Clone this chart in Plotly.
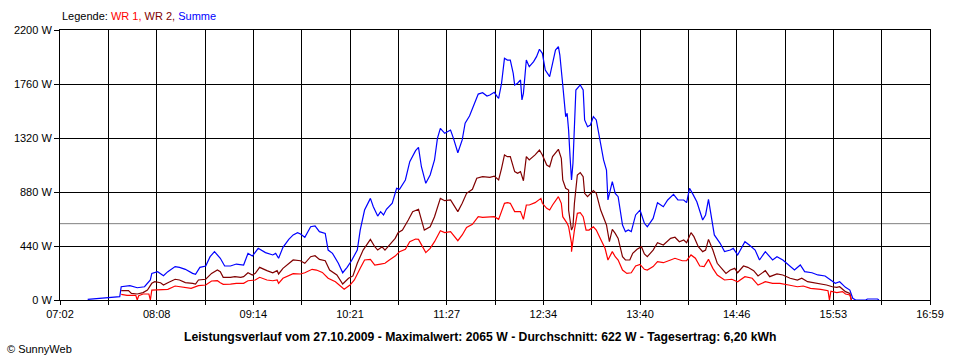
import plotly.graph_objects as go
from datetime import datetime

DATE = "2009-10-27"
X_START = "07:02"
X_END = "16:59"
X_TICK_LABELS = ["07:02", "08:08", "09:14", "10:21", "11:27", "12:34", "13:40", "14:46", "15:53", "16:59"]
Y_TICKS = [0, 440, 880, 1320, 1760, 2200]
AVERAGE_W = 622

SUM_TIMES = ["07:21", "07:29", "07:40", "07:43", "07:44", "07:50", "07:55", "08:00", "08:04", "08:05",
             "08:09", "08:13", "08:16", "08:21", "08:24", "08:28", "08:33", "08:35", "08:38", "08:42",
             "08:45", "08:48", "08:52", "08:55", "08:59", "09:03", "09:08", "09:11", "09:14", "09:18",
             "09:23", "09:28", "09:30", "09:32", "09:35", "09:39", "09:42", "09:45", "09:47", "09:50",
             "09:54", "09:57", "10:00", "10:04", "10:06", "10:09", "10:13", "10:16", "10:19", "10:22",
             "10:26", "10:28", "10:31", "10:35", "10:37", "10:40", "10:42", "10:44", "10:46", "10:50",
             "10:53", "10:55", "10:59", "11:02", "11:06", "11:08", "11:10", "11:13", "11:16", "11:19",
             "11:21", "11:23", "11:26", "11:30", "11:32", "11:35", "11:38", "11:40", "11:43", "11:45",
             "11:49", "11:52", "11:55", "11:57", "12:00", "12:02", "12:03", "12:05", "12:07", "12:09",
             "12:11", "12:13", "12:14", "12:16", "12:18", "12:19", "12:20", "12:22", "12:24", "12:27",
             "12:29", "12:31", "12:33", "12:35", "12:38", "12:40", "12:42", "12:44", "12:45", "12:47",
             "12:49", "12:50", "12:51", "12:52", "12:53", "12:54", "12:55", "12:56", "12:59", "13:01",
             "13:02", "13:04", "13:06", "13:08", "13:10", "13:13", "13:15", "13:17", "13:18", "13:21",
             "13:23", "13:25", "13:28", "13:30", "13:32", "13:34", "13:37", "13:40", "13:43", "13:45",
             "13:49", "13:52", "13:56", "13:59", "14:03", "14:06", "14:10", "14:12", "14:14", "14:16",
             "14:19", "14:23", "14:25", "14:27", "14:29", "14:31", "14:35", "14:38", "14:42", "14:44",
             "14:47", "14:52", "14:55", "14:59", "15:02", "15:06", "15:11", "15:14", "15:18", "15:23",
             "15:26", "15:30", "15:33", "15:38", "15:42", "15:47", "15:50", "15:54", "15:57", "16:01",
             "16:04", "16:06", "16:08", "16:15", "16:16", "16:23", "16:24"]
SUM_W = [5, 11, 19, 27, 108, 117, 100, 108, 163, 217,
         231, 198, 231, 272, 266, 250, 217, 209, 266, 277,
         353, 394, 340, 277, 277, 293, 285, 380, 358, 421,
         386, 367, 380, 340, 429, 494, 530, 549, 538, 511,
         597, 603, 557, 543, 407, 380, 299, 222, 266, 320,
         407, 570, 733, 828, 760, 684, 720, 693, 739, 788,
         910, 902, 978, 1127, 1217, 1244, 1086, 951, 1019, 1141,
         1317, 1399, 1358, 1385, 1317, 1200, 1304, 1440, 1499, 1562,
         1678, 1689, 1662, 1670, 1692, 1657, 1643, 1766, 1969, 1955,
         1955, 1847, 1752, 1766, 1793, 1630, 1684, 1955, 1901, 1942,
         1983, 2043, 2010, 1874, 1820, 1929, 2037, 2065, 1996, 1752,
         1494, 1521, 1385, 1168, 978, 1114, 1412, 1711, 1752, 1711,
         1467, 1412, 1426, 1494, 1467, 1249, 1141, 1059, 815, 964,
         869, 842, 611, 557, 570, 557, 693, 733, 625, 597,
         665, 793, 760, 815, 861, 815, 815, 793, 910, 869,
         801, 652, 693, 820, 679, 530, 462, 394, 407, 421,
         367, 475, 448, 407, 326, 394, 326, 353, 326, 272,
         244, 285, 231, 222, 204, 196, 169, 136, 149, 103,
         81, 14, 0, 0, 8, 8, 0]

WR2_TIMES = ["07:44", "07:49", "07:51", "07:55", "07:59", "08:02", "08:05", "08:07", "08:11", "08:13",
             "08:16", "08:21", "08:24", "08:28", "08:33", "08:35", "08:37", "08:42", "08:46", "08:50",
             "08:52", "08:54", "08:59", "09:02", "09:06", "09:08", "09:11", "09:14", "09:16", "09:19",
             "09:24", "09:28", "09:31", "09:32", "09:35", "09:39", "09:42", "09:47", "09:50", "09:54",
             "09:57", "10:00", "10:04", "10:07", "10:12", "10:16", "10:20", "10:23", "10:26", "10:30",
             "10:35", "10:38", "10:40", "10:43", "10:45", "10:48", "10:52", "10:54", "10:57", "11:01",
             "11:04", "11:08", "11:10", "11:12", "11:16", "11:19", "11:23", "11:26", "11:30", "11:32",
             "11:35", "11:38", "11:41", "11:45", "11:48", "11:52", "11:57", "12:00", "12:03", "12:05",
             "12:07", "12:09", "12:11", "12:14", "12:16", "12:18", "12:20", "12:22", "12:24", "12:28",
             "12:31", "12:33", "12:36", "12:38", "12:40", "12:44", "12:46", "12:47", "12:49", "12:51",
             "12:51", "12:53", "12:54", "12:55", "12:57", "12:59", "13:01", "13:02", "13:04", "13:08",
             "13:10", "13:13", "13:15", "13:17", "13:19", "13:21", "13:23", "13:25", "13:28", "13:30",
             "13:33", "13:35", "13:38", "13:41", "13:43", "13:45", "13:49", "13:52", "13:56", "14:01",
             "14:04", "14:07", "14:10", "14:12", "14:15", "14:17", "14:20", "14:23", "14:25", "14:27",
             "14:30", "14:33", "14:36", "14:39", "14:42", "14:45", "14:47", "14:51", "14:54", "14:58",
             "15:01", "15:06", "15:09", "15:14", "15:18", "15:23", "15:28", "15:31", "15:35", "15:39",
             "15:44", "15:48", "15:52", "15:55", "15:57", "16:01", "16:04", "16:05"]
WR2_W = [76, 76, 54, 49, 60, 81, 136, 149, 141, 122,
         141, 169, 163, 142, 136, 130, 163, 169, 217, 244,
         231, 185, 185, 190, 185, 190, 222, 204, 217, 266,
         239, 222, 239, 212, 258, 293, 326, 320, 299, 353,
         361, 331, 320, 244, 204, 130, 177, 196, 299, 407,
         494, 434, 407, 434, 407, 448, 502, 549, 570, 652,
         720, 739, 652, 570, 597, 679, 828, 809, 815, 774,
         720, 788, 869, 902, 992, 1005, 1000, 1010, 978, 1073,
         1182, 1168, 1168, 1046, 1032, 1046, 972, 1168, 1141, 1182,
         1222, 1182, 1100, 1086, 1168, 1228, 1155, 978, 910, 896,
         733, 570, 597, 788, 1019, 1038, 1005, 869, 842, 891,
         869, 733, 665, 611, 475, 576, 543, 502, 353, 326,
         326, 380, 413, 434, 375, 353, 407, 467, 448, 502,
         511, 475, 489, 467, 549, 516, 434, 394, 407, 494,
         407, 299, 258, 217, 244, 258, 222, 277, 266, 239,
         196, 239, 190, 212, 204, 177, 163, 177, 149, 141,
         136, 122, 108, 103, 108, 68, 54, 0]

WR1_TIMES = ["07:44", "07:48", "07:54", "07:55", "07:56", "07:59", "08:03", "08:04", "08:05", "08:11",
             "08:16", "08:21", "08:25", "08:29", "08:32", "08:37", "08:42", "08:46", "08:50", "08:52",
             "08:54", "08:59", "09:03", "09:08", "09:11", "09:16", "09:19", "09:24", "09:28", "09:31",
             "09:32", "09:35", "09:39", "09:42", "09:47", "09:50", "09:55", "09:58", "10:02", "10:06",
             "10:11", "10:14", "10:17", "10:21", "10:24", "10:28", "10:31", "10:35", "10:38", "10:42",
             "10:45", "10:48", "10:52", "10:55", "10:59", "11:02", "11:06", "11:08", "11:10", "11:13",
             "11:16", "11:19", "11:23", "11:26", "11:30", "11:32", "11:35", "11:38", "11:41", "11:45",
             "11:49", "11:52", "11:57", "12:00", "12:03", "12:05", "12:07", "12:09", "12:11", "12:14",
             "12:18", "12:20", "12:22", "12:24", "12:28", "12:32", "12:33", "12:36", "12:38", "12:40",
             "12:44", "12:46", "12:47", "12:50", "12:51", "12:53", "12:53", "12:55", "12:57", "12:59",
             "13:01", "13:03", "13:05", "13:08", "13:10", "13:13", "13:16", "13:18", "13:21", "13:23",
             "13:25", "13:28", "13:31", "13:34", "13:37", "13:40", "13:43", "13:45", "13:49", "13:52",
             "13:56", "14:01", "14:04", "14:09", "14:12", "14:15", "14:18", "14:21", "14:24", "14:27",
             "14:30", "14:33", "14:38", "14:43", "14:47", "14:52", "14:57", "15:01", "15:06", "15:11",
             "15:16", "15:22", "15:28", "15:32", "15:37", "15:44", "15:49", "15:50", "15:51", "15:55",
             "15:59", "16:01", "16:04", "16:05"]
WR1_W = [46, 38, 38, 0, 35, 49, 49, 0, 81, 87,
         87, 114, 108, 100, 95, 117, 122, 155, 157, 141,
         128, 130, 136, 136, 157, 163, 185, 163, 157, 163,
         136, 177, 196, 215, 212, 222, 250, 244, 225, 177,
         149, 114, 87, 122, 163, 258, 326, 331, 285, 293,
         299, 326, 358, 394, 413, 475, 497, 494, 448, 386,
         421, 475, 565, 549, 557, 530, 483, 530, 592, 617,
         679, 674, 674, 679, 657, 720, 788, 793, 788, 720,
         720, 657, 774, 774, 793, 828, 788, 747, 733, 774,
         842, 788, 679, 625, 597, 462, 394, 570, 706, 711,
         679, 570, 570, 597, 570, 494, 421, 326, 394, 353,
         326, 244, 217, 222, 277, 290, 250, 244, 272, 312,
         304, 326, 340, 320, 320, 367, 340, 277, 272, 331,
         258, 204, 163, 169, 149, 190, 177, 122, 149, 136,
         136, 122, 108, 114, 95, 87, 76, 0, 72, 60,
         68, 49, 41, 0]


def to_dt(times):
    return [f"{DATE} {t}" for t in times]


FONT = "Liberation Sans, Arial, sans-serif"
COL_WR1 = "#ff0000"
COL_WR2 = "#800000"
COL_SUM = "#0000ff"

start = datetime.strptime(f"{DATE} {X_START}", "%Y-%m-%d %H:%M")
end = datetime.strptime(f"{DATE} {X_END}", "%Y-%m-%d %H:%M")
n_div = (len(X_TICK_LABELS) - 1) * 2
step = (end - start) / n_div
tickvals = [start + i * step for i in range(n_div + 1)]
ticktext = [X_TICK_LABELS[i // 2] if i % 2 == 0 else "" for i in range(n_div + 1)]

fig = go.Figure()
fig.add_trace(go.Scatter(x=to_dt(SUM_TIMES), y=SUM_W, mode="lines",
                         line=dict(color=COL_SUM, width=1.2), name="Summe"))
fig.add_trace(go.Scatter(x=to_dt(WR2_TIMES), y=WR2_W, mode="lines",
                         line=dict(color=COL_WR2, width=1.2), name="WR 2"))
fig.add_trace(go.Scatter(x=to_dt(WR1_TIMES), y=WR1_W, mode="lines",
                         line=dict(color=COL_WR1, width=1.2), name="WR 1"))

fig.add_shape(type="line", xref="paper", x0=0, x1=1, yref="y", y0=AVERAGE_W, y1=AVERAGE_W,
              line=dict(color="#808080", width=1), layer="between")

fig.update_layout(
    width=960, height=360,
    margin=dict(l=60, r=30, t=30, b=60),
    paper_bgcolor="white", plot_bgcolor="white",
    showlegend=False,
    font=dict(family=FONT, size=11, color="black"),
    xaxis=dict(
        type="date",
        range=[start, end],
        tickvals=tickvals, ticktext=ticktext,
        showgrid=True, gridcolor="black", gridwidth=1,
        showline=True, linecolor="black", linewidth=1, mirror=True,
        ticks="outside", ticklen=4, tickcolor="black", tickwidth=1,
        tickfont=dict(family=FONT, size=11),
        zeroline=False, fixedrange=True,
    ),
    yaxis=dict(
        range=[0, 2200],
        tickvals=Y_TICKS, ticktext=[f"{v} W" for v in Y_TICKS],
        showgrid=True, gridcolor="black", gridwidth=1,
        showline=True, linecolor="black", linewidth=1, mirror=True,
        ticks="outside", ticklen=5, tickcolor="black", tickwidth=1,
        tickfont=dict(family=FONT, size=11),
        zeroline=False, fixedrange=True,
    ),
)

fig.add_annotation(
    xref="paper", yref="paper", x=0, y=1, xanchor="left", yanchor="middle", yshift=14,
    showarrow=False, font=dict(family=FONT, size=11, color="black"),
    text=(f"Legende: <span style='color:{COL_WR1}'>WR 1, </span>"
          f"<span style='color:{COL_WR2}'>WR 2, </span>"
          f"<span style='color:{COL_SUM}'>Summe</span>"),
)
fig.add_annotation(
    xref="paper", yref="paper", x=0.4828, y=0, xanchor="center", yanchor="middle", yshift=-37,
    showarrow=False, font=dict(family=FONT, size=12.2, color="black"),
    text="<b>Leistungsverlauf vom 27.10.2009 - Maximalwert: 2065 W - Durchschnitt: 622 W - Tagesertrag: 6,20 kWh</b>",
)
fig.add_annotation(
    xref="paper", yref="paper", x=0, y=0, xanchor="left", yanchor="middle",
    xshift=-55, yshift=-49,
    showarrow=False, font=dict(family=FONT, size=11, color="black"),
    text="© SunnyWeb",
)

fig.write_html("out.html", config={"displayModeBar": False},
               post_script="document.body.style.margin='0';document.body.style.padding='0';")
